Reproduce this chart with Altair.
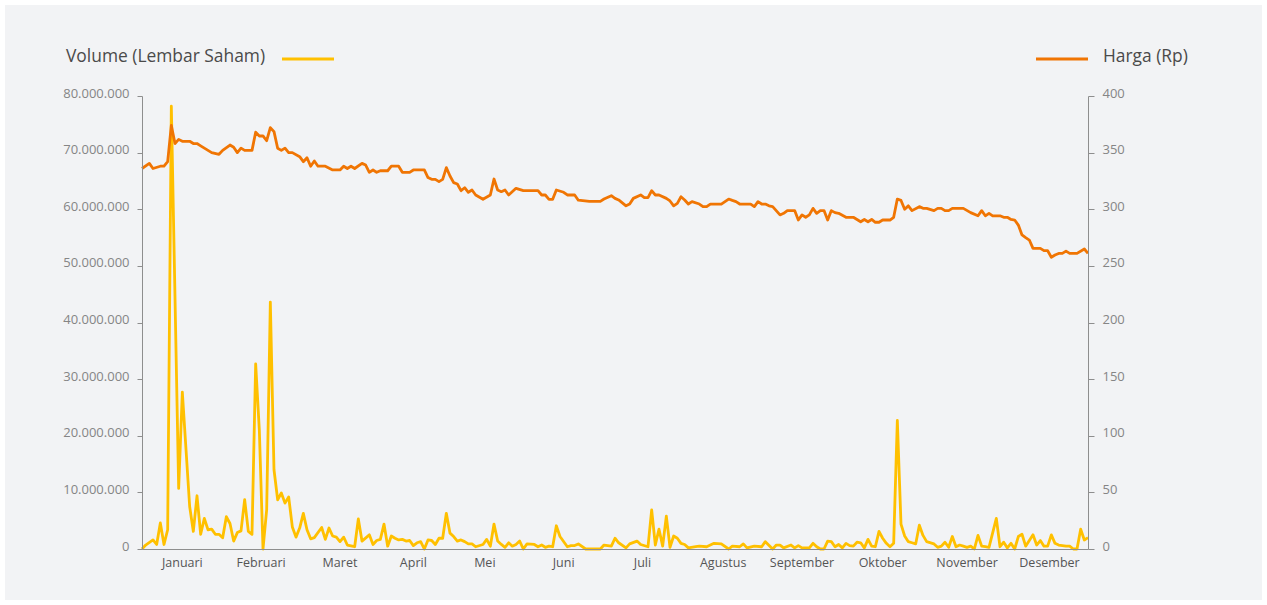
import altair as alt
import pandas as pd

# ---- data (x = trading-day index) ----
volume_series = [  # (day, volume in millions of shares)
    (0, 0), (1, 0.7), (3, 1.6), (4, 0.8), (5, 4.6), (6, 0.8), (7, 3.4), (8, 78.2), (10, 10.7), (11, 27.7),
    (13, 7.5), (14, 3.1), (15, 9.4), (16, 2.6), (17, 5.4), (18, 3.4), (19, 3.5), (20, 2.6), (21, 2.6), (22, 2.0),
    (23, 5.7), (24, 4.5), (25, 1.4), (26, 2.9), (27, 3.2), (28, 8.7), (29, 3.1), (30, 2.6), (31, 32.7), (32, 21),
    (33, 0), (34, 6.9), (35, 43.6), (36, 14), (37, 8.7), (38, 9.9), (39, 8.1), (40, 9.2), (41, 3.9), (42, 2.1),
    (43, 3.7), (44, 6.3), (45, 3.4), (46, 1.8), (47, 2.0), (49, 3.8), (50, 1.7), (51, 3.7), (52, 2.3), (53, 2.1),
    (54, 1.3), (55, 2.1), (56, 0.7), (58, 0.4), (59, 5.3), (60, 1.4), (62, 2.5), (63, 0.8), (64, 1.5), (65, 1.7),
    (66, 4.4), (67, 0.5), (68, 2.3), (69, 1.9), (70, 1.6), (71, 1.7), (72, 1.4), (73, 1.5), (74, 0.6), (75, 1.1),
    (76, 1.3), (77, 0), (78, 1.6), (79, 1.5), (80, 0.8), (81, 1.9), (82, 1.9), (83, 6.3), (84, 2.8), (85, 2.2),
    (86, 1.4), (87, 1.6), (88, 1.3), (89, 0.9), (90, 0.9), (91, 0.4), (93, 0.8), (94, 1.7), (95, 0.5), (96, 4.4),
    (97, 1.4), (98, 0.8), (99, 0.3), (100, 1.1), (101, 0.5), (102, 0.8), (103, 1.4), (104, 0), (105, 0.9), (107, 0.8),
    (108, 0.4), (109, 0.7), (110, 0.3), (111, 0.5), (112, 0.4), (113, 4.1), (114, 2.2), (116, 0.4), (117, 0.6), (118, 0.6),
    (119, 0.9), (121, 0), (125, 0), (126, 0.7), (128, 0.5), (129, 1.9), (130, 1.1), (132, 0.2), (133, 0.9), (135, 1.4),
    (136, 0.8), (138, 0.4), (139, 6.9), (140, 0.7), (141, 3.5), (142, 0.5), (143, 5.8), (144, 0.3), (145, 2.3), (146, 1.9),
    (147, 1.0), (148, 0.8), (149, 0.2), (151, 0.4), (152, 0.5), (154, 0.4), (156, 1.0), (158, 0.9), (160, 0), (161, 0.5),
    (163, 0.4), (164, 0.9), (165, 0.2), (167, 0.5), (169, 0.4), (170, 1.3), (172, 0), (173, 0.7), (174, 0.7), (175, 0.2),
    (177, 0.7), (178, 0.2), (179, 0.6), (180, 0.2), (182, 0.2), (183, 1.0), (184, 0.4), (185, 0), (186, 0), (187, 1.4),
    (188, 1.3), (189, 0.4), (190, 0.8), (191, 0.2), (192, 1.0), (193, 0.6), (194, 0.5), (195, 1.2), (196, 1.1), (197, 0.2),
    (198, 1.7), (199, 0.5), (200, 0.4), (201, 3.1), (202, 1.9), (203, 1.0), (204, 0.4), (205, 1.0), (206, 22.7), (207, 4.4),
    (208, 2.3), (209, 1.3), (210, 1.1), (211, 0.9), (212, 4.2), (213, 2.4), (214, 1.3), (216, 0.9), (217, 0.3), (218, 0.5),
    (219, 1.2), (220, 0.3), (221, 2.2), (222, 0.4), (223, 0.7), (224, 0.5), (225, 0.3), (226, 0.5), (227, 0), (228, 2.4),
    (229, 0.5), (230, 0.4), (231, 0.3), (233, 5.4), (234, 0.4), (235, 1.2), (236, 0.2), (237, 1.0), (238, 0), (239, 2.2),
    (240, 2.6), (241, 0.5), (243, 2.5), (244, 0.7), (245, 1.5), (246, 0.5), (247, 0.5), (248, 2.5), (249, 1.0), (250, 0.7),
    (252, 0.5), (253, 0.5), (254, 0), (255, 0), (256, 3.5), (257, 1.6), (258, 2.0),
]

price_series = [  # (day, price in Rp)
    (0, 336), (2, 340.5), (3, 336), (5, 338), (6, 338), (7, 342), (8, 374), (9, 358), (10, 361.7), (11, 360),
    (13, 360), (14, 358), (15, 358), (16, 356), (18, 352), (19, 350), (21, 348.5), (22, 352), (24, 356.7), (25, 354.7),
    (26, 350), (27, 354), (28, 352), (30, 352), (31, 368), (32, 364.7), (33, 364.7), (34, 360.5), (35, 372), (36, 368.5),
    (37, 353.8), (38, 352), (39, 354), (40, 350), (41, 350), (43, 346.4), (44, 342), (45, 345.5), (46, 338), (47, 342.6),
    (48, 338), (50, 338), (52, 334.7), (54, 334.7), (55, 338), (56, 336), (57, 338), (58, 336), (60, 340.5), (61, 339),
    (62, 332.6), (63, 334.7), (64, 332.6), (65, 334), (67, 334), (68, 338), (70, 338), (71, 332.6), (73, 332.6), (74, 334.7),
    (77, 334.7), (78, 328), (79, 326.4), (80, 326.4), (81, 324.4), (82, 326.4), (83, 336.7), (84, 329.4), (85, 323.5), (86, 322.3),
    (87, 316.4), (88, 319), (89, 315), (90, 317), (91, 312.6), (93, 308.8), (95, 312.6), (96, 326.7), (97, 317), (98, 315.5),
    (99, 317), (100, 312.6), (102, 318.5), (104, 316.4), (108, 316.4), (109, 312.6), (110, 312.6), (111, 308.8), (112, 308.8), (113, 317),
    (115, 315), (116, 312.6), (118, 312.6), (119, 308), (122, 307), (125, 307), (126, 309), (128, 312), (129, 309.6), (130, 308.2),
    (132, 303), (133, 304.6), (134, 309.6), (136, 312.6), (137, 310.2), (138, 310.2), (139, 316.4), (140, 312.6), (141, 312.6), (143, 309.6),
    (144, 307.3), (145, 303), (146, 305.2), (147, 311), (148, 308.2), (149, 304.6), (150, 306.7), (152, 304.6), (153, 302.3), (154, 302.3),
    (155, 304.6), (158, 304.6), (160, 309), (161, 307.8), (162, 306.7), (163, 304.6), (166, 304.6), (167, 302.3), (168, 306.7), (169, 304.6),
    (170, 304.6), (171, 303), (172, 302.3), (174, 295), (175, 296.4), (176, 298.8), (178, 298.8), (179, 290.5), (180, 295), (181, 292.9),
    (182, 295), (183, 300.8), (184, 296.4), (185, 298.8), (186, 298.8), (187, 290.5), (188, 298.8), (189, 297), (190, 296.4), (192, 292.9),
    (194, 292.9), (195, 291), (196, 289), (197, 291), (198, 289), (199, 291), (200, 288.5), (201, 288.5), (202, 290.5), (204, 290.5),
    (205, 292.9), (206, 309), (207, 307.8), (208, 300), (209, 303), (210, 298.8), (212, 302.3), (213, 300.8), (214, 300.8), (216, 298.8),
    (217, 300.8), (218, 300.8), (219, 298.8), (220, 298.8), (221, 300.8), (224, 300.8), (226, 297), (228, 294.2), (229, 298.8), (230, 294.2),
    (231, 296.4), (232, 294.2), (234, 294.2), (235, 292.9), (236, 292.9), (237, 291), (238, 290.5), (239, 286), (240, 277.3), (241, 274.9),
    (242, 272.8), (243, 265.5), (245, 265.5), (246, 263.4), (247, 263.4), (248, 257.6), (249, 259.6), (250, 261), (251, 261), (252, 263),
    (253, 261), (255, 261), (257, 264.9), (258, 261),
]

months = ["Januari", "Februari", "Maret", "April", "Mei", "Juni", "Juli",
          "Agustus", "September", "Oktober", "November", "Desember"]
month_pos = [11, 32.5, 54, 74, 93.5, 115, 136.5, 158.5, 180, 202, 225, 247.5]

volume_ticks = [0, 10e6, 20e6, 30e6, 40e6, 50e6, 60e6, 70e6, 80e6]
price_ticks = [0, 50, 100, 150, 200, 250, 300, 350, 400]

# ---- tables ----
vol_df = pd.DataFrame(volume_series, columns=["day", "vol_mn"])
vol_df["volume"] = vol_df["vol_mn"] * 1_000_000
price_df = pd.DataFrame(price_series, columns=["day", "price"])
month_df = pd.DataFrame({"pos": month_pos, "month": months})
one = pd.DataFrame({"a": [0]})

FONT = "Open Sans"
AXIS_COLOR = "#8e8e8e"
YELLOW = "#FFC000"
ORANGE = "#F07503"
W, H = 946, 453

x_scale = alt.Scale(domain=[0, 258], nice=False, zero=False)
x_axis = alt.Axis(title=None, labels=False, ticks=False, grid=False,
                  domainColor=AXIS_COLOR, domainWidth=1, zindex=1)

dot_fmt = "join(split(format(datum.value, ','), ','), '.')"

vol_line = alt.Chart(vol_df).mark_line(color=YELLOW, strokeWidth=2.8, strokeJoin="round").encode(
    x=alt.X("day:Q", scale=x_scale, axis=x_axis),
    y=alt.Y("volume:Q", scale=alt.Scale(domain=[0, 80e6], nice=False),
            axis=alt.Axis(orient="left", values=volume_ticks, labelExpr=dot_fmt, title=None,
                          grid=False, tickSize=5, labelPadding=8, labelOffset=-3, zindex=1,
                          domainColor=AXIS_COLOR, tickColor=AXIS_COLOR, labelColor="#858585",
                          labelFont=FONT, labelFontSize=13)),
)

price_line = alt.Chart(price_df).mark_line(color=ORANGE, strokeWidth=2.8, strokeJoin="round").encode(
    x=alt.X("day:Q", scale=x_scale, axis=x_axis),
    y=alt.Y("price:Q", scale=alt.Scale(domain=[0, 400], nice=False),
            axis=alt.Axis(orient="right", values=price_ticks, title=None,
                          grid=False, tickSize=6, labelPadding=8, labelOffset=-3, zindex=1,
                          domainColor=AXIS_COLOR, tickColor=AXIS_COLOR, labelColor="#858585",
                          labelFont=FONT, labelFontSize=13)),
)

month_text = alt.Chart(month_df).mark_text(font=FONT, fontSize=12.5, color="#555555",
                                           baseline="middle", align="center").encode(
    x=alt.X("pos:Q", scale=x_scale, axis=x_axis),
    y=alt.value(H + 14),
    text="month:N",
)

panel = alt.Chart(one).mark_rect(color="#f2f3f5").encode(
    x=alt.value(-137), x2=alt.value(1262 - 142), y=alt.value(-91), y2=alt.value(600 - 96))

vol_title = alt.Chart(one).mark_text(text="Volume (Lembar Saham)", font=FONT, fontSize=17.4,
                                     color="#4a4a4a", align="left", baseline="alphabetic").encode(
    x=alt.value(-76), y=alt.value(-34))
vol_swatch = alt.Chart(one).mark_rule(color=YELLOW, strokeWidth=3).encode(
    x=alt.value(140), x2=alt.value(192), y=alt.value(-37))
price_title = alt.Chart(one).mark_text(text="Harga (Rp)", font=FONT, fontSize=17.4,
                                       color="#4a4a4a", align="left", baseline="alphabetic").encode(
    x=alt.value(961), y=alt.value(-34))
price_swatch = alt.Chart(one).mark_rule(color=ORANGE, strokeWidth=3).encode(
    x=alt.value(894), x2=alt.value(946), y=alt.value(-37))

chart = alt.layer(
    panel, vol_line, price_line, month_text, vol_title, vol_swatch, price_title, price_swatch
).resolve_scale(y="independent").properties(
    width=W, height=H,
    padding={"left": 142, "top": 96, "right": 1267 - 142 - W, "bottom": 605 - 96 - H},
    autosize="none",
    background="#ffffff",
).configure_view(stroke=None)

chart.save("out.html", embed_options={"renderer": "svg", "actions": False})
